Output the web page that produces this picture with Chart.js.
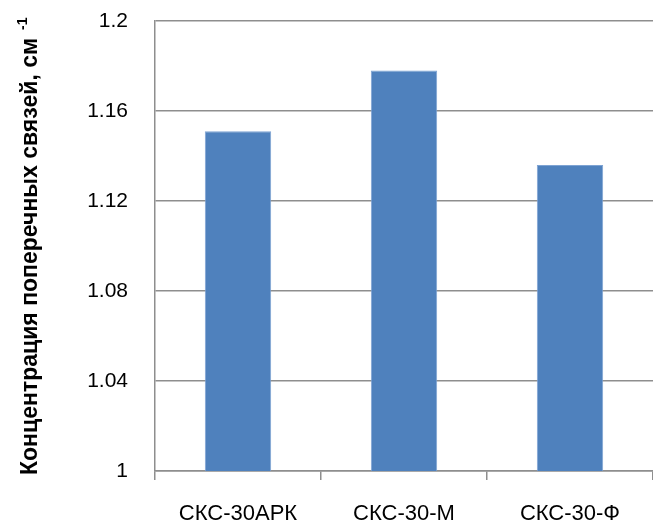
<!DOCTYPE html>
<html>
<head>
<meta charset="utf-8">
<script src="https://cdn.jsdelivr.net/npm/chart.js@4"></script>
<style>
  html, body { margin: 0; padding: 0; background: #fff; }
  #wrap { width: 653px; height: 522px; }
</style>
</head>
<body>
<div id="wrap"><canvas id="barChart" width="653" height="522"></canvas></div>
<script>
// data
const categories = ['СКС-30АРК', 'СКС-30-М', 'СКС-30-Ф']
const crosslinkValues = [1.151, 1.178, 1.136]
const yMin = 1
const yMax = 1.2
const yStep = 0.04
const yTitle = 'Концентрация поперечных связей, см'
const yTitleSup = '-1'

const gridGray = '#8e8e8e'

// y title is drawn by hand because of the superscript
const yTitlePlugin = {
  id: 'yTitlePlugin',
  afterDraw(chart) {
    const ctx = chart.ctx
    ctx.save()
    ctx.translate(37, 475)
    ctx.rotate(-Math.PI / 2)
    ctx.fillStyle = '#000'
    ctx.textBaseline = 'alphabetic'
    ctx.textAlign = 'left'
    ctx.font = 'bold 24px "Liberation Sans Narrow", "Liberation Sans", Arial, sans-serif'
    ctx.fillText(yTitle, 0, 0, 437)
    ctx.font = 'bold 14px "Liberation Sans", Arial, sans-serif'
    ctx.fillText(yTitleSup, 445, -10)
    ctx.restore()
  }
}

var ctx = document.getElementById('barChart').getContext('2d');
var myChart = new Chart(ctx, {
  type: 'bar',
  data: {
    labels: categories,
    datasets: [{
      data: crosslinkValues,
      backgroundColor: '#4f81bd',
      borderColor: '#7ea3d3',
      borderWidth: 1,
      barPercentage: 0.4,
      categoryPercentage: 1.0
    }]
  },
  options: {
    responsive: false,
    animation: false,
    layout: {
      padding: { top: 21, right: 0, bottom: 0, left: 0 }
    },
    plugins: {
      legend: { display: false },
      title: { display: false },
      tooltip: { enabled: false }
    },
    scales: {
      x: {
        offset: true,
        afterFit: (scale) => {
          scale.height = 51
          scale.paddingLeft = 0
          scale.paddingRight = 0
        },
        border: { color: gridGray, width: 1.5 },
        grid: {
          offset: true,
          drawOnChartArea: false,
          drawTicks: true,
          tickLength: 9,
          color: gridGray,
          lineWidth: 1.5
        },
        ticks: {
          color: '#000',
          padding: 21,
          maxRotation: 0,
          font: { family: '"Liberation Sans", Arial, sans-serif', size: 22 }
        }
      },
      y: {
        min: yMin,
        max: yMax,
        afterFit: (scale) => {
          scale.width = 155
          scale.paddingTop = 0
          scale.paddingBottom = 0
        },
        border: { color: gridGray, width: 1.5 },
        grid: {
          color: gridGray,
          lineWidth: 1.5,
          drawTicks: false
        },
        ticks: {
          stepSize: yStep,
          color: '#000',
          padding: 27,
          font: { family: '"Liberation Sans", Arial, sans-serif', size: 21 },
          callback: (v) => String(Number(v.toFixed(2)))
        }
      }
    }
  },
  plugins: [yTitlePlugin]
});
</script>
</body>
</html>
